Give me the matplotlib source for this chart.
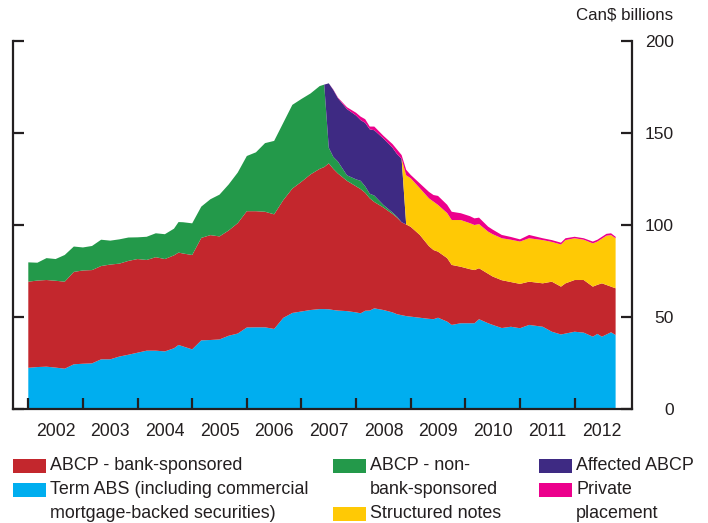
import matplotlib
matplotlib.use("Agg")
import matplotlib.pyplot as plt
from matplotlib.patches import Rectangle
import numpy as np

plt.rcParams['font.family'] = ['Liberation Sans', 'DejaVu Sans']

# month index counted from Jan 2002
months = [0, 2, 4, 6, 8, 10, 12, 14, 16, 18, 20, 22, 24, 26, 28, 30, 32, 33, 34, 36,
          38, 40, 42, 44, 46, 48, 50, 52, 54, 56, 58, 60, 62, 64, 65,
          66, 67, 68, 70, 72, 73, 74, 75, 76, 78, 80, 81, 82, 83, 84, 86, 88, 89, 90,
          92, 93, 95, 97, 98, 99, 101, 102, 104, 106, 108, 110, 113, 115, 117, 118,
          120, 122, 124, 125, 126, 127, 128, 129]

term_abs = [22.4, 22.8, 23.0, 22.5, 21.9, 24.3, 24.6, 24.8, 27.0, 27.0, 28.5, 29.5, 30.6,
            31.7, 31.7, 31.3, 33.0, 34.8, 34.0, 32.4, 37.3, 37.5, 37.8, 39.8, 41.0, 44.3,
            44.4, 44.4, 43.5, 49.5, 52.2, 53.0, 53.8, 54.3, 54.3,
            54.2, 53.8, 53.5, 53.2, 52.5, 52.0, 53.4, 53.5, 54.7, 53.8, 52.5, 51.5, 51.0,
            50.5, 50.2, 49.6, 49.0, 48.8, 49.6, 47.5, 45.7, 46.6, 46.6, 46.6, 48.8, 46.6,
            45.7, 44.0, 44.7, 43.9, 45.7, 44.7, 42.0, 40.5, 41.0, 42.0, 41.5, 39.3, 40.8,
            39.3, 40.5, 41.7, 40.2]

abcp_bank = [46.8, 47.0, 47.1, 47.2, 47.3, 50.2, 50.7, 50.7, 50.7, 51.5, 50.5, 51.0, 50.9,
             49.3, 50.8, 50.2, 50.5, 50.2, 50.5, 51.3, 55.7, 57.0, 56.0, 57.2, 60.0, 63.2,
             63.1, 62.8, 62.3, 64.0, 67.6, 70.5, 73.7, 76.2, 77.2,
             79.3, 76.7, 74.5, 70.8, 68.5, 67.5, 64.1, 61.0, 57.8, 55.7, 53.5, 52.5, 50.5,
             49.8, 48.8, 45.0, 39.5, 37.6, 35.9, 34.5, 32.6, 30.7, 29.4, 28.9, 27.7, 26.9,
             26.3, 26.0, 24.3, 24.1, 23.5, 23.6, 27.2, 26.0, 27.3, 28.1, 28.6, 27.2, 26.7,
             29.0, 26.9, 24.8, 25.4]

abcp_nonbank = [10.5, 9.7, 11.9, 11.8, 14.5, 13.8, 12.5, 13.1, 14.3, 13.0, 13.2, 12.7, 11.8,
                12.6, 13.0, 13.5, 14.5, 16.6, 17.0, 17.2, 17.0, 19.5, 22.7, 25.0, 27.5, 30.0,
                32.0, 37.3, 39.9, 42.0, 45.5, 45.0, 44.0, 45.0, 44.8,
                8.5, 6.5, 6.5, 3.0, 3.8, 4.5, 3.5, 2.5, 3.5, 1.4, 0.8, 0.5, 0.0,
                0, 0, 0, 0, 0, 0, 0, 0, 0, 0, 0, 0, 0, 0, 0, 0, 0, 0, 0, 0, 0, 0,
                0, 0, 0, 0, 0, 0, 0, 0]

affected_abcp = [0] * 35 + [35.0, 36.4, 34.5, 36.0, 34.7, 33.0, 34.5, 35.0, 35.5, 36.1,
                            35.2, 34.0, 34.5] + [0] * 30

structured_notes = [0] * 48 + [26.7, 26.4, 25.4, 26.0, 26.3, 25.4, 24.5, 24.4, 25.4, 25.0,
                               24.5, 24.0, 22.9, 23.0, 22.8, 23.0, 23.0, 23.6, 23.5, 21.6,
                               22.9, 23.5, 22.7, 21.9, 23.5, 23.5, 24.3, 26.8, 28.0, 27.2]

private_placement = [0] * 35 + [0, 0.2, 0.3, 1.0, 1.5, 1.9, 2.0, 1.5, 2.0, 1.5, 2.0, 2.5, 2.0,
                                3.0, 1.8, 2.6, 3.5, 3.6, 4.9, 4.5, 4.5, 3.7, 3.8, 3.6, 3.5,
                                2.7, 2.5, 1.8, 1.5, 1.2, 1.8, 1.0, 1.0, 1.0, 1.0, 0.8, 0.8,
                                1.0, 1.0, 1.0, 1.0, 1.0, 0.8]

years = list(range(2002, 2013))

c_blue = '#00AEEF'
c_red = '#C3272D'
c_green = '#23994A'
c_purple = '#3E2A83'
c_yellow = '#FFC905'
c_magenta = '#EC008C'
ink = '#231F20'

x = 2002 + np.array(months) / 12.0

fig = plt.figure(figsize=(7.08, 5.23), dpi=100)
ax = fig.add_axes([13 / 708, 1 - 409 / 523, (632 - 13) / 708, (409 - 41) / 523])

ax.stackplot(x, term_abs, abcp_bank, abcp_nonbank, affected_abcp, structured_notes,
             private_placement,
             colors=[c_blue, c_red, c_green, c_purple, c_yellow, c_magenta],
             linewidth=0)

ax.set_xlim(2001.72, 2013.05)
ax.set_ylim(0, 200)

for s in ['left', 'right', 'bottom']:
    ax.spines[s].set_color(ink)
    ax.spines[s].set_linewidth(1.6)
ax.spines['top'].set_visible(False)

ax.set_yticks([0, 50, 100, 150, 200])
ax.tick_params(axis='y', which='major', direction='in', length=8, width=1.6, color=ink,
               left=True, right=True, labelleft=False, labelright=True,
               labelsize=12.5, labelcolor=ink, pad=30)
for lab in ax.get_yticklabels():
    lab.set_horizontalalignment('right')

ax.set_xticks(years)
ax.set_xticklabels([])
ax.set_xticks([y + 0.5 for y in years], minor=True)
ax.set_xticklabels([str(y) for y in years], minor=True)
ax.tick_params(axis='x', which='major', direction='in', length=8, width=1.6, color=ink)
ax.tick_params(axis='x', which='minor', length=0, labelsize=12.7, labelcolor=ink, pad=10)

fig.text(673 / 708, 1 - 15 / 523, 'Can$ billions', ha='right', va='center',
         fontsize=12.2, color=ink)

# legend drawn by hand in three columns
legend_items = [
    (13, 466, c_red, ['ABCP - bank-sponsored']),
    (13, 490, c_blue, ['Term ABS (including commercial', 'mortgage-backed securities)']),
    (333, 466, c_green, ['ABCP - non-', 'bank-sponsored']),
    (333, 514, c_yellow, ['Structured notes']),
    (539, 466, c_purple, ['Affected ABCP']),
    (539, 490, c_magenta, ['Private', 'placement']),
]
for px, py, col, lines in legend_items:
    fig.patches.append(Rectangle((px / 708, 1 - (py + 7) / 523), 33 / 708, 14 / 523,
                                 transform=fig.transFigure, color=col, lw=0))
    for k, line in enumerate(lines):
        fig.text((px + 37) / 708, 1 - (py + k * 24) / 523, line, ha='left', va='center',
                 fontsize=12.9, color=ink)

fig.savefig('out.png', dpi=100)
